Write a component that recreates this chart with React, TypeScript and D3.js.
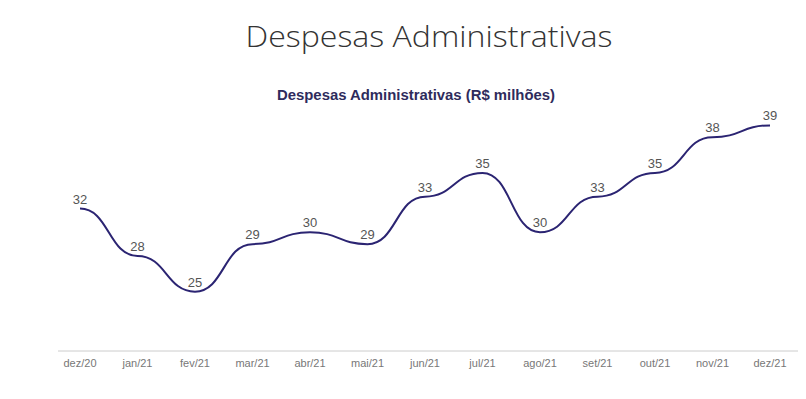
import React from "react";
import * as d3 from "d3";

const categories = ["dez/20", "jan/21", "fev/21", "mar/21", "abr/21", "mai/21", "jun/21", "jul/21", "ago/21", "set/21", "out/21", "nov/21", "dez/21"];
const values = [32, 28, 25, 29, 30, 29, 33, 35, 30, 33, 35, 38, 39];
const title = "Despesas Administrativas";
const subtitle = "Despesas Administrativas (R$ milhões)";

export default function App() {
  const W = 806, H = 399;
  const x = d3.scalePoint<string>().domain(categories).range([80, 770]);
  const y = d3.scaleLinear().domain([20, 40]).range([351, 113.5]);
  const line = d3
    .line<number>()
    .x((_, i) => x(categories[i]) as number)
    .y((d) => y(d))
    .curve(d3.curveBumpX);
  const path = line(values) || "";
  return (
    <svg width={W} height={H} style={{ position: "absolute", left: 0, top: 0, background: "#fff" }}>
      <rect width={W} height={H} fill="#fff" />
      <text x={429} y={47} textAnchor="middle" fontFamily="'Open Sans', sans-serif" fontWeight={300} fontSize={30} fill="#333" textLength={367} lengthAdjust="spacingAndGlyphs">
        {title}
      </text>
      <text x={416} y={100} textAnchor="middle" fontFamily="'Liberation Sans', Arial, sans-serif" fontWeight="bold" fontSize={14} fill="#2e2b5c" textLength={278} lengthAdjust="spacingAndGlyphs">
        {subtitle}
      </text>
      <line x1={58} x2={798} y1={351} y2={351} stroke="#cccccc" strokeWidth={1} />
      {categories.map((c) => (
        <text key={c} x={x(c)} y={367} textAnchor="middle" fontFamily="'Liberation Sans', Arial, sans-serif" fontSize={11} fill="#777">
          {c}
        </text>
      ))}
      <path d={path} fill="none" stroke="#2b2472" strokeWidth={2} />
      {values.map((v, i) => (
        <text key={i} x={x(categories[i])} y={y(v) - 5} textAnchor="middle" fontFamily="'Liberation Sans', Arial, sans-serif" fontSize={13} fill="#555">
          {v}
        </text>
      ))}
    </svg>
  );
}
